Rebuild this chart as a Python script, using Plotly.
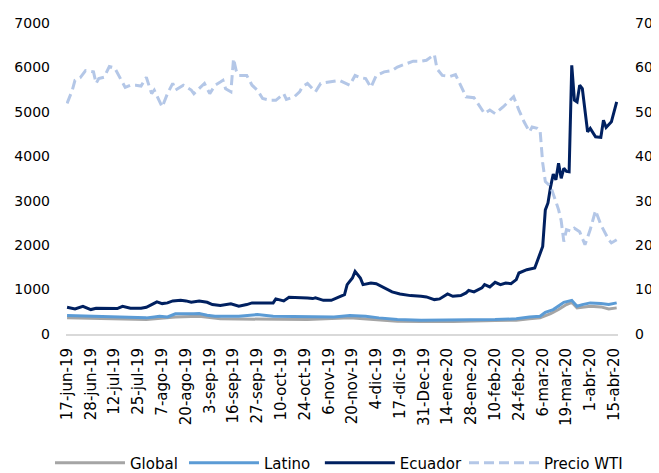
import plotly.graph_objects as go

# trading-day number counted from 17-jun-19 (bond-market calendar), labels every 9 days
tick_labels = [
    "17-jun-19", "28-jun-19", "12-jul-19", "25-jul-19", "7-ago-19", "20-ago-19",
    "3-sep-19", "16-sep-19", "27-sep-19", "10-oct-19", "24-oct-19", "6-nov-19",
    "20-nov-19", "4-dic-19", "17-dic-19", "31-Dec-19", "14-ene-20", "28-ene-20",
    "10-feb-20", "24-feb-20", "6-mar-20", "19-mar-20", "1-abr-20", "15-abr-20",
]
tick_days = [9 * k for k in range(len(tick_labels))]

glo_day = [0, 10, 30, 41, 50, 58, 65, 78, 91, 107, 118, 125, 134, 146, 162, 170, 175,
           179, 183, 186, 189, 191, 193, 198, 202, 205, 208]
glob = [363, 348, 325, 385, 400, 341, 341, 341, 325, 363, 325, 288, 280, 280, 303, 310, 341,
        363, 460, 550, 662, 713, 588, 624, 610, 565, 588]

lat_day = [0, 10, 23, 30, 33, 35, 38, 41, 48, 50, 53, 56, 65, 72, 78, 91, 101, 107, 113, 118,
           125, 134, 146, 152, 162, 170, 175, 179, 181, 184, 186, 188, 191, 193, 195, 198,
           202, 205, 208]
latino = [415, 400, 385, 363, 385, 400, 385, 453, 453, 460, 422, 400, 400, 438, 400, 385, 385,
          415, 400, 363, 325, 310, 310, 325, 325, 341, 385, 400, 490, 550, 624, 713, 758, 624,
          662, 700, 684, 662, 700]

ecu_day = [0, 3, 6, 9, 11, 15, 19, 21, 24, 28, 30, 32, 34, 36, 38, 40, 43, 45, 47, 50, 53, 55,
           58, 62, 65, 68, 70, 74, 78, 79, 82, 84, 87, 91, 93, 94, 97, 100, 103, 105, 106, 108,
           109, 111, 112, 115, 117, 120, 123, 126, 130, 134, 136, 139, 141, 144, 146, 149, 151,
           152, 154, 157, 158, 160, 162, 164, 166, 168, 170, 171, 174, 177, 178, 180, 181, 182,
           183, 184, 185, 186, 187, 188, 189, 190, 191, 192, 193, 194, 195, 196, 197, 198, 200,
           202, 203, 204, 206, 208]
ecuador = [601, 565, 624, 550, 579, 572, 572, 624, 579, 579, 601, 662, 723, 684, 700, 745, 758,
           745, 713, 745, 713, 662, 640, 678, 624, 662, 700, 700, 700, 790, 745, 826, 826, 812,
           797, 812, 758, 758, 835, 886, 1111, 1261, 1410, 1261, 1111, 1149, 1133, 1037, 947,
           902, 864, 848, 835, 774, 790, 902, 848, 864, 925, 983, 947, 1037, 1111, 1059, 1162,
           1111, 1149, 1133, 1223, 1373, 1447, 1486, 1634, 1970, 2794, 2950, 3317, 3600, 3470,
           3842, 3505, 3729, 3660, 3650, 6048, 5262, 5224, 5599, 5525, 5038, 4551, 4627, 4439,
           4425, 4813, 4649, 4775, 5224]

wti_day = [0, 2, 3, 5, 7, 10, 11, 12, 14, 16, 18, 20, 22, 24, 26, 28, 30, 32, 33, 36, 38, 40,
           41, 44, 47, 48, 50, 52, 54, 56, 58, 59, 60, 62, 63, 64, 65, 68, 70, 72, 74, 77, 79,
           82, 83, 86, 88, 89, 91, 93, 94, 96, 99, 101, 103, 107, 109, 111, 113, 115, 117, 120,
           123, 125, 128, 131, 134, 136, 139, 140, 142, 145, 147, 149, 151, 154, 156, 158, 160,
           162, 165, 168, 169, 171, 173, 175, 176, 178, 179, 180, 181, 183, 184, 185, 186, 187,
           188, 189, 191, 192, 194, 196, 198, 200, 202, 203, 205, 206, 208]
wti = [51.9, 54.9, 57.1, 57.7, 59.3, 59.0, 56.4, 57.5, 57.8, 60.2, 59.9, 57.8, 55.5, 56.0,
       56.0, 55.8, 57.8, 54.1, 54.9, 51.1, 54.1, 56.4, 54.9, 56.0, 54.9, 54.1, 55.2, 56.4, 54.1,
       56.0, 56.7, 57.1, 55.2, 54.5, 62.0, 59.3, 58.2, 58.2, 56.0, 54.9, 53.0, 52.6, 52.6, 54.1,
       52.8, 53.4, 54.5, 55.6, 56.4, 55.2, 54.5, 56.4, 56.7, 56.9, 57.1, 56.0, 58.2, 57.7, 57.5,
       55.5, 58.2, 59.0, 59.3, 60.1, 60.7, 61.4, 61.4, 61.6, 62.9, 59.7, 58.2, 58.0, 58.4, 56.0,
       53.4, 53.2, 51.5, 49.6, 50.4, 49.6, 51.1, 53.0, 53.4, 50.4, 47.7, 45.5, 46.6, 46.3, 45.9,
       38.5, 34.3, 33.2, 31.7, 29.8, 28.0, 25.5, 20.8, 23.5, 23.1, 23.8, 23.0, 20.1, 23.5, 27.8,
       24.6, 23.4, 21.2, 20.5, 21.2]

FONT = "DejaVu Sans"

fig = go.Figure()
fig.add_trace(go.Scatter(x=glo_day, y=glob, name="Global", mode="lines",
                         line=dict(color="#A5A5A5", width=3)))
fig.add_trace(go.Scatter(x=lat_day, y=latino, name="Latino", mode="lines",
                         line=dict(color="#5B9BD5", width=3)))
# Ecuador and WTI get their own legend boxes so their labels are not clipped by entrywidth
fig.add_trace(go.Scatter(x=ecu_day, y=ecuador, name="Ecuador", mode="lines",
                         legend="legend3",
                         line=dict(color="#002060", width=3)))
fig.add_trace(go.Scatter(x=wti_day, y=wti, name="Precio WTI", mode="lines", yaxis="y2",
                         legend="legend2",
                         line=dict(color="#B4C7E7", width=3, dash="10px,5px")))

legend_style = dict(orientation="h", yanchor="top", xanchor="left", y=-0.3615,
                    font=dict(family=FONT, size=15), itemwidth=70, tracegroupgap=0,
                    bgcolor="rgba(0,0,0,0)")

# page body has an 8px margin, so the figure is a bit smaller than the window
fig.update_layout(
    width=651,
    height=465,
    margin=dict(l=58, r=41, t=15, b=138.5, autoexpand=False),
    paper_bgcolor="white",
    plot_bgcolor="white",
    font=dict(family=FONT, size=14, color="#000000"),
    showlegend=True,
    legend=dict(legend_style, x=-0.029, entrywidth=49),
    legend3=dict(legend_style, x=0.4599),
    legend2=dict(legend_style, x=0.721),
    xaxis=dict(
        range=[-0.4, 208.5],
        tickmode="array",
        tickvals=tick_days,
        ticktext=tick_labels,
        tickangle=-90,
        tickfont=dict(size=15),
        showgrid=False,
        zeroline=False,
        showline=True,
        linecolor="#D9D9D9",
        linewidth=2,
        ticks="",
        ticklabelstandoff=6,
    ),
    yaxis=dict(
        range=[0, 7000],
        dtick=1000,
        showgrid=False,
        zeroline=False,
        ticks="",
        ticklabelstandoff=15,
    ),
    yaxis2=dict(
        range=[0, 70],
        dtick=10,
        overlaying="y",
        side="right",
        showgrid=False,
        zeroline=False,
        ticks="",
        ticklabelstandoff=16,
    ),
)

fig.write_html("out.html")
